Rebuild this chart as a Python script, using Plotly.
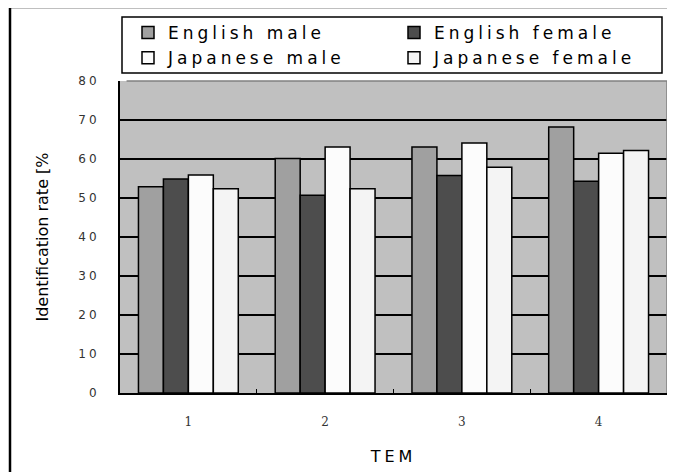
import plotly.graph_objects as go

categories = ["1", "2", "3", "4"]
english_male = [52.9, 60.1, 63.1, 68.2]
english_female = [54.9, 50.7, 55.8, 54.3]
japanese_male = [55.9, 63.1, 64.1, 61.5]
japanese_female = [52.4, 52.4, 57.9, 62.2]
series_names = ["English male", "English female", "Japanese male", "Japanese female"]
series_colors = ["#a0a0a0", "#4d4d4d", "#fcfcfc", "#f4f4f4"]
y_ticks = [0, 10, 20, 30, 40, 50, 60, 70, 80]


def spaced(s, px):
    return f'<span style="letter-spacing:{px}px">{s}</span>'


fig = go.Figure()
for name, vals, col in zip(series_names,
                           [english_male, english_female, japanese_male, japanese_female],
                           series_colors):
    fig.add_trace(go.Bar(x=categories, y=vals, name=spaced(name, 4),
                         marker=dict(color=col, line=dict(color="black", width=1.5))))

# page has an 8px body margin; work in page pixels and convert
OFF = 8
W, H = 675 - OFF, 472 - OFF
PL, PR, PT, PB = 120, 667, 81, 393  # plot area in page pixels
L, R, T, B = PL - OFF, W - (PR - OFF), PT - OFF, H - (PB - OFF)
pw, ph = W - L - R, H - T - B


def px2x(px):
    return (px - OFF - L) / pw


def px2y(py):
    return (H - B - (py - OFF)) / ph


fig.update_layout(
    width=W, height=H,
    margin=dict(l=L, r=R, t=T, b=B, autoexpand=False),
    paper_bgcolor="white",
    plot_bgcolor="#c0c0c0",
    barmode="group",
    bargap=0.27,
    bargroupgap=0,
    font=dict(family="DejaVu Sans", color="black"),
    legend=dict(
        orientation="h",
        x=px2x(128), y=px2y(15), xanchor="left", yanchor="top",
        bgcolor="rgba(0,0,0,0)", borderwidth=0,
        entrywidth=221, entrywidthmode="pixels",
        font=dict(family="DejaVu Sans", size=17, color="black"),
        traceorder="normal",
    ),
    xaxis=dict(
        automargin=False,
        showgrid=False, showline=True, linecolor="black", linewidth=2,
        ticks="inside", tickson="boundaries", ticklen=4, tickcolor="black",
        ticklabelstandoff=17,
        tickfont=dict(family="DejaVu Serif", size=12, color="#333"),
        title=dict(text=spaced("TEM", 4), font=dict(family="DejaVu Sans", size=16), standoff=22),
    ),
    yaxis=dict(
        automargin=False,
        range=[0, 80], tickvals=y_ticks, ticktext=[spaced(str(v), 3) for v in y_ticks],
        showgrid=True, gridcolor="black", gridwidth=1.5,
        showline=True, linecolor="black", linewidth=2,
        ticks="inside", ticklen=6, tickcolor="black", tickwidth=1.5,
        ticklabelstandoff=16,
        tickfont=dict(family="DejaVu Sans", size=12, color="#333"),
        title=dict(text="Identification rate [%", font=dict(family="DejaVu Sans", size=16), standoff=26),
        zeroline=False,
    ),
    showlegend=True,
)

# legend box
fig.add_shape(type="rect", xref="paper", yref="paper",
              x0=px2x(122), x1=px2x(662), y0=px2y(73), y1=px2y(17),
              line=dict(color="black", width=1.5), fillcolor="white", layer="above")
# grey right/top border of plot area
fig.add_shape(type="line", xref="paper", yref="paper", x0=0.012, x1=1, y0=1, y1=1,
              line=dict(color="#808080", width=1.5), layer="above")
fig.add_shape(type="line", xref="paper", yref="paper", x0=1, x1=1, y0=0, y1=1,
              line=dict(color="#808080", width=1.5), layer="above")
# outer frame
fig.add_shape(type="rect", xref="paper", yref="paper",
              x0=px2x(10), x1=px2x(700), y0=px2y(7), y1=px2y(500),
              line=dict(color="black", width=2.5), fillcolor="rgba(0,0,0,0)", layer="above")

fig.write_html("out.html")
